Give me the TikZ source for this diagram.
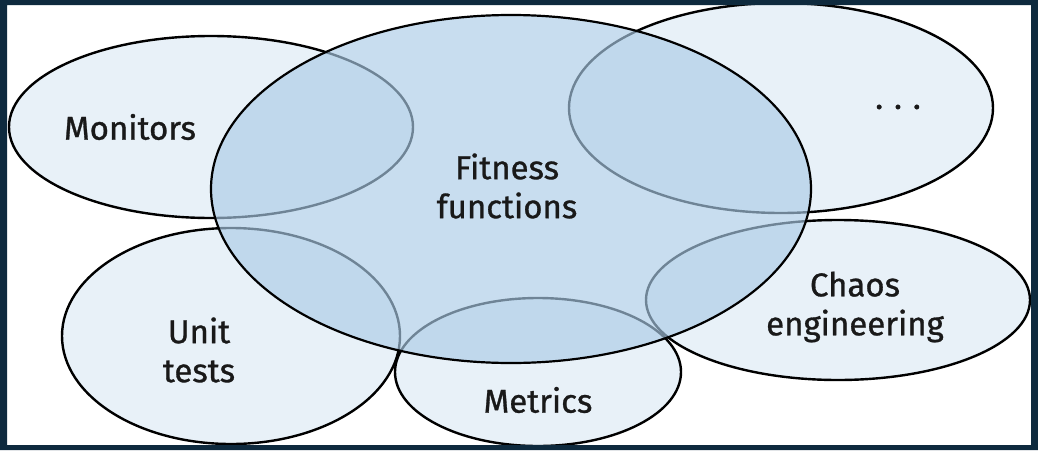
\documentclass[tikz,border=0pt]{standalone}
\usepackage{fontspec}
\setmainfont{Fira Sans}[FakeBold=0.9]
\definecolor{outerfill}{RGB}{232,241,248}
\definecolor{fitfill}{RGB}{171,204,231}
\definecolor{framecol}{RGB}{14,42,62}
\begin{document}
\begin{tikzpicture}[x=1pt, y=-1pt]
	\tikzstyle{every node}=[inner sep=1pt, align=center, font=\fontsize{33}{39}\selectfont, text=black!90]
	\tikzstyle{outer}=[fill=outerfill, draw=black, line width=2.4pt]
	\tikzstyle{fitness}=[fill=fitfill, fill opacity=0.65, draw=black, line width=2.2pt]
	\useasboundingbox (0,0) rectangle (1038,450);
	\fill[white] (0,0) rectangle (1038,450);
	% outer sets
	\draw[outer] (211,127) ellipse [x radius=202, y radius=91];
	\draw[outer] (781,108) ellipse [x radius=212, y radius=105];
	\draw[outer] (838,300) ellipse [x radius=192, y radius=80];
	\draw[outer] (231,336) ellipse [x radius=169, y radius=108];
	\draw[outer] (538,372) ellipse [x radius=143, y radius=74];
	% centre set
	\draw[fitness] (511,189) ellipse [x radius=300, y radius=174];
	\node (monitors) at (130,127) {Monitors};
	\node (more) at (898,107) {.\hspace{0.33em}.\hspace{0.33em}.};
	\node (fitfun) at (507,186) {Fitness\\functions};
	\node (chaos) at (855,307) {Chaos\\engineering};
	\node (unit) at (199,350) {Unit\\tests};
	\node (metrics) at (538,400) {Metrics};
	% frame
	\fill[framecol, even odd rule] (0,0) rectangle (1038,450) (7,5) rectangle (1031,445);
\end{tikzpicture}
\end{document}
